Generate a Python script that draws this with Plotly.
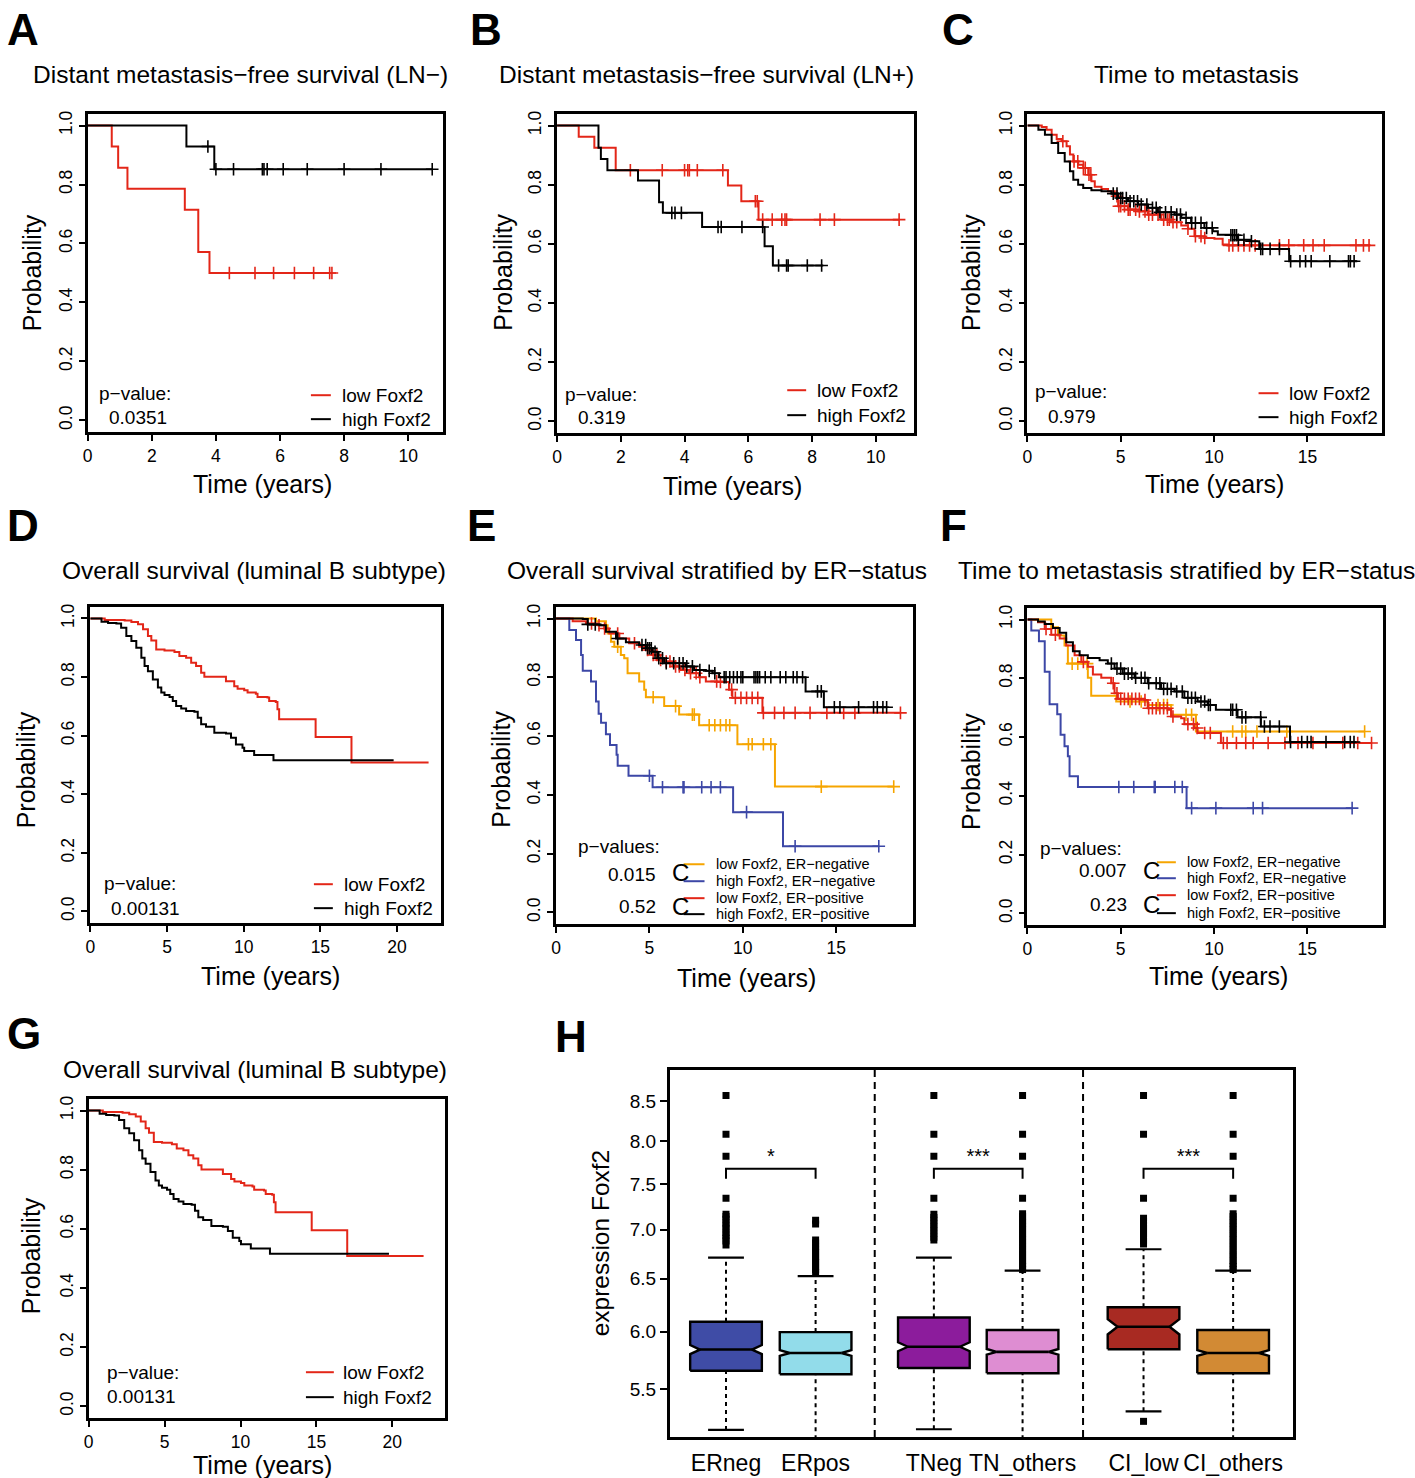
import numpy as np
import plotly.graph_objects as go

W, H = 1415, 1478
FONT = "Liberation Sans, Arial, Helvetica, sans-serif"

RED = "#E32618"
BLACK = "#000000"
ORANGE = "#F6A500"
BLUE = "#3C47A6"

# ---------------- Kaplan-Meier data ----------------
# A: distant metastasis-free survival (LN-)
a_low_t = [0.75, 0.95, 1.24, 3.03, 3.45, 3.80]
a_low_s = [0.929, 0.857, 0.786, 0.714, 0.571, 0.500]
a_low_end = 7.64
a_low_cens = [4.42, 5.22, 5.80, 6.45, 7.05, 7.55, 7.62]
a_high_t = [3.08, 3.95]
a_high_s = [0.929, 0.852]
a_high_end = 10.75
a_high_cens = [3.75, 4.0, 4.55, 5.45, 5.5, 5.6, 6.1, 6.85, 8.0, 9.15, 10.75]

# B: distant metastasis-free survival (LN+)
b_low_t = [0.68, 1.17, 1.84, 5.36, 5.78, 6.32]
b_low_s = [0.962, 0.925, 0.849, 0.797, 0.744, 0.682]
b_low_end = 10.73
b_low_cens = [2.3, 3.3, 4.0, 4.1, 4.15, 4.4, 5.2, 6.22, 6.28, 6.45, 6.75, 7.05, 7.15, 7.2, 8.25, 8.7, 10.73]
b_high_t = [1.30, 1.375, 1.58, 2.54, 3.20, 3.32, 4.55, 6.51, 6.77]
b_high_s = [0.925, 0.887, 0.849, 0.814, 0.741, 0.705, 0.657, 0.592, 0.527]
b_high_end = 8.35
b_high_cens = [3.6, 3.7, 3.9, 5.05, 5.15, 5.8, 6.45, 6.95, 7.2, 7.25, 7.85, 8.3]

# C: time to metastasis
c_low_t = [0.77, 1.03, 1.3, 1.57, 1.83, 2.1, 2.28, 2.46, 2.72, 2.99, 3.26, 3.43, 3.61, 3.97,
           4.32, 4.68, 4.86, 5.39, 5.93, 6.46, 7.17, 7.7, 8.24, 8.6, 8.95, 9.48, 10.02, 10.46, 10.73]
c_low_s = [0.995, 0.986, 0.969, 0.955, 0.947, 0.93, 0.902, 0.879, 0.868, 0.857, 0.834, 0.812, 0.793, 0.786,
           0.778, 0.761, 0.727, 0.716, 0.710, 0.699, 0.682, 0.673, 0.662, 0.651, 0.626, 0.620, 0.617, 0.598, 0.595]
c_low_end = 18.38
c_low_cens = [1.9, 2.5, 2.7, 3.0, 3.1, 3.3, 3.4, 4.8, 4.9, 5.0, 5.2, 5.4, 5.5, 5.8, 6.0, 6.3, 6.5, 6.7,
              7.0, 7.3, 7.5, 7.6, 7.8, 8.0, 8.6, 9.0, 9.3, 9.5, 10.8, 11.0, 11.3, 11.6, 11.9, 12.2,
              13.5, 14.0, 14.8, 15.3, 15.9, 17.6, 18.0, 18.3]
c_high_t = [0.59, 0.94, 1.3, 1.65, 2.0, 2.28, 2.46, 2.72, 2.99, 3.43, 3.97, 4.5, 4.86, 5.39, 5.93, 6.46,
            6.99, 7.88, 8.24, 8.77, 9.48, 9.93, 10.2, 10.9, 11.26, 11.97, 12.42, 14.02]
c_high_s = [0.986, 0.969, 0.941, 0.907, 0.879, 0.846, 0.817, 0.800, 0.789, 0.781, 0.778, 0.770, 0.755, 0.744,
            0.733, 0.722, 0.707, 0.699, 0.688, 0.671, 0.654, 0.643, 0.631, 0.629, 0.614, 0.609, 0.583, 0.541]
c_high_end = 17.67
c_high_cens = [4.6, 4.8, 5.0, 5.1, 5.3, 5.5, 5.7, 5.9, 6.1, 6.4, 6.7, 6.9, 7.1, 7.4, 7.7, 8.0, 8.2, 8.5,
               8.8, 9.0, 9.3, 9.6, 9.9, 10.9, 11.0, 11.1, 11.2, 11.3, 11.6, 12.0, 12.5, 12.6, 13.0, 13.5,
               14.1, 14.6, 14.9, 15.2, 16.2, 17.2, 17.3, 17.5]

# D / G: overall survival (luminal B subtype)
d_low_t = [0.93, 2.23, 2.67, 3.1, 3.43, 3.75, 3.97, 4.29, 4.83, 5.48, 5.8, 6.24, 6.57, 6.89, 7.22, 7.43,
           8.84, 9.38, 9.6, 10.03, 10.25, 10.79, 10.9, 11.55, 11.66, 12.09, 12.2, 12.31, 14.69, 17.03]
d_low_s = [0.995, 0.993, 0.988, 0.98, 0.963, 0.94, 0.925, 0.894, 0.891, 0.886, 0.872, 0.866, 0.849, 0.838,
           0.815, 0.801, 0.786, 0.769, 0.76, 0.755, 0.747, 0.743, 0.732, 0.73, 0.718, 0.715, 0.69, 0.656,
           0.595, 0.508]
d_low_end = 22.06
d_high_t = [0.72, 1.15, 1.69, 2.0, 2.34, 2.67, 2.99, 3.32, 3.53, 3.75, 4.07, 4.4, 4.62, 4.83, 5.16, 5.37,
            5.59, 5.92, 6.24, 6.78, 7.0, 7.22, 7.54, 8.08, 8.84, 9.17, 9.49, 9.92, 10.03, 10.68, 11.94]
d_high_s = [0.989, 0.985, 0.983, 0.968, 0.94, 0.923, 0.9, 0.866, 0.838, 0.82, 0.792, 0.764, 0.747, 0.739,
            0.732, 0.718, 0.701, 0.693, 0.684, 0.682, 0.661, 0.639, 0.63, 0.61, 0.607, 0.593, 0.57, 0.559,
            0.548, 0.534, 0.516]
d_high_end = 19.78

# E: overall survival stratified by ER-status
e_lneg_t = [2.14, 2.67, 2.76, 2.94, 3.12, 3.47, 3.65, 3.83, 4.45, 4.72, 4.81, 5.79, 6.59, 7.66, 9.71, 11.72]
e_lneg_s = [0.991, 0.977, 0.949, 0.921, 0.904, 0.876, 0.865, 0.814, 0.786, 0.758, 0.732, 0.702, 0.673,
            0.637, 0.572, 0.428]
e_lneg_end = 18.08
e_lneg_cens = [3.3, 5.2, 6.4, 7.3, 7.4, 8.2, 8.5, 8.8, 9.1, 9.3, 10.3, 10.5, 11.1, 11.5, 14.2, 18.08]
e_hneg_t = [0.71, 1.07, 1.34, 1.43, 1.87, 2.14, 2.28, 2.41, 2.67, 2.89, 3.24, 3.3, 3.88, 5.17, 9.48, 12.15]
e_hneg_s = [0.961, 0.927, 0.876, 0.822, 0.786, 0.718, 0.676, 0.645, 0.606, 0.57, 0.536, 0.499, 0.465,
            0.426, 0.341, 0.225]
e_hneg_end = 17.28
e_hneg_cens = [5.0, 5.7, 6.8, 6.85, 7.8, 8.3, 8.8, 10.2, 12.8, 17.28]
e_lpos_t = [0.89, 1.6, 2.23, 2.58, 2.85, 3.39, 3.92, 4.45, 4.81, 5.17, 5.43, 5.79, 6.24, 6.68, 7.13, 7.66,
            8.02, 8.64, 9.26, 9.44, 11.05]
e_lpos_s = [0.991, 0.983, 0.977, 0.966, 0.949, 0.932, 0.916, 0.904, 0.893, 0.876, 0.859, 0.854, 0.837,
            0.825, 0.814, 0.8, 0.786, 0.784, 0.758, 0.73, 0.679]
e_lpos_end = 18.44
e_lpos_cens = [1.9, 2.3, 2.6, 3.3, 4.2, 4.9, 5.2, 5.4, 5.6, 5.9, 6.1, 6.4, 6.6, 6.9, 7.2, 7.5, 7.7, 8.6,
               8.8, 9.4, 9.6, 9.9, 10.2, 10.5, 10.8, 11.1, 11.7, 12.2, 12.8, 13.6, 14.5, 15.4, 16.0, 18.44]
e_hpos_t = [1.43, 1.69, 2.32, 2.67, 3.21, 3.74, 4.45, 4.81, 5.17, 5.43, 5.79, 6.95, 7.39, 8.02, 8.37,
            8.73, 13.36, 14.34]
e_hpos_s = [0.998, 0.98, 0.977, 0.955, 0.932, 0.919, 0.91, 0.899, 0.887, 0.865, 0.848, 0.837, 0.825,
            0.822, 0.814, 0.8, 0.752, 0.698]
e_hpos_end = 17.73
e_hpos_cens = [1.7, 2.1, 3.3, 4.6, 4.8, 4.9, 5.0, 5.1, 5.3, 5.5, 5.7, 5.9, 6.3, 6.6, 6.8, 7.0, 7.3, 7.7,
               8.2, 8.5, 9.0, 9.1, 9.3, 9.5, 9.7, 9.9, 10.0, 10.6, 10.7, 10.8, 10.9, 11.2, 11.5, 12.0,
               12.3, 12.7, 12.9, 13.2, 14.0, 14.2, 14.9, 15.2, 16.2, 17.0, 17.2, 17.5, 17.7]

# F: time to metastasis stratified by ER-status
f_lneg_t = [1.28, 1.64, 1.99, 2.17, 3.24, 3.42, 4.76, 6.45, 7.7, 9.03]
f_lneg_s = [0.974, 0.946, 0.912, 0.85, 0.802, 0.741, 0.721, 0.709, 0.676, 0.619]
f_lneg_end = 18.07
f_lneg_cens = [2.4, 2.7, 3.2, 5.5, 6.1, 7.0, 7.3, 7.5, 8.5, 8.8, 11.0, 11.5, 11.7, 12.3, 13.9, 18.07]
f_hneg_t = [0.21, 0.62, 0.93, 1.19, 1.6, 1.78, 1.99, 2.17, 2.26, 2.71, 8.53]
f_hneg_s = [0.963, 0.926, 0.822, 0.712, 0.678, 0.608, 0.569, 0.535, 0.467, 0.43, 0.358]
f_hneg_end = 17.4
f_hneg_cens = [4.9, 5.7, 6.8, 6.85, 7.9, 8.3, 8.8, 10.1, 12.1, 12.6, 17.4]
f_lpos_t = [0.57, 0.93, 1.28, 1.73, 2.08, 2.53, 2.89, 3.24, 3.51, 3.96, 4.49, 4.67, 4.85, 6.27, 6.45,
            7.52, 7.7, 8.24, 8.41, 8.94, 9.12, 10.37]
f_lpos_s = [0.991, 0.968, 0.948, 0.935, 0.912, 0.878, 0.856, 0.839, 0.813, 0.802, 0.783, 0.749, 0.73,
            0.726, 0.698, 0.693, 0.67, 0.664, 0.644, 0.631, 0.614, 0.58]
f_lpos_end = 18.44
f_lpos_cens = [1.0, 1.5, 3.0, 4.6, 4.8, 5.0, 5.2, 5.4, 5.6, 5.8, 6.0, 6.3, 6.5, 6.7, 6.9, 7.1, 7.3, 7.5,
               7.8, 8.6, 8.9, 9.1, 9.5, 9.8, 10.5, 10.7, 11.2, 11.7, 12.1, 12.9, 13.8, 14.5, 15.3,
               16.9, 17.7, 18.44]
f_hpos_t = [0.57, 0.93, 1.37, 1.73, 2.08, 2.44, 2.8, 3.24, 3.87, 4.31, 4.67, 5.11, 5.74, 6.45, 7.16,
            7.88, 8.41, 9.12, 9.66, 10.1, 11.26, 12.51, 14.07]
f_hpos_s = [0.993, 0.985, 0.971, 0.955, 0.923, 0.892, 0.878, 0.869, 0.861, 0.85, 0.833, 0.816, 0.802,
            0.783, 0.764, 0.755, 0.734, 0.721, 0.709, 0.693, 0.667, 0.636, 0.583]
f_hpos_end = 17.58
f_hpos_cens = [4.5, 4.8, 5.0, 5.2, 5.4, 5.6, 5.8, 6.1, 6.3, 6.5, 6.9, 7.1, 7.3, 7.5, 7.7, 8.0, 8.3, 8.6,
               8.8, 9.0, 9.3, 9.5, 9.7, 9.8, 10.9, 11.0, 11.2, 11.5, 11.7, 12.5, 12.7, 13.0, 13.5,
               14.1, 14.7, 15.0, 15.2, 16.0, 17.0, 17.3, 17.5]

# ---------------- H: boxplot data ----------------
h_names = ["ERneg", "ERpos", "TNeg", "TN_others", "CI_low", "CI_others"]
h_colors = ["#3F4CA6", "#92DCEA", "#8C1C9C", "#DE8DD2", "#A82A22", "#D28A34"]
h_q1 = [5.656, 5.626, 5.680, 5.635, 5.843, 5.635]
h_med = [5.84, 5.81, 5.865, 5.82, 6.045, 5.81]
h_q3 = [6.09, 5.996, 6.13, 6.015, 6.225, 6.015]
h_lo = [5.173, 5.10, 5.178, 5.10, 5.32, 5.10]
h_hi = [6.71, 6.525, 6.71, 6.58, 6.795, 6.58]
h_notch = [0.04, 0.025, 0.04, 0.025, 0.07, 0.025]
h_out = [
    [8.57, 8.085, 7.82, 7.34, 7.165, 7.14, 7.11, 7.07, 7.04, 7.01, 6.97, 6.94, 6.91, 6.88, 6.84],
    [7.10, 7.06, 6.89, 6.86, 6.82, 6.79, 6.76, 6.72, 6.69, 6.66, 6.62, 6.59, 6.56],
    [8.57, 8.085, 7.82, 7.34, 7.165, 7.13, 7.10, 7.06, 7.03, 6.99, 6.96, 6.92, 6.89],
    [8.57, 8.085, 7.82, 7.34, 7.17, 7.14, 7.10, 7.07, 7.03, 7.00, 6.96, 6.93, 6.89, 6.86, 6.82,
     6.79, 6.75, 6.72, 6.68, 6.65, 6.62, 6.59],
    [8.57, 8.085, 7.34, 7.12, 7.09, 7.05, 7.02, 6.98, 6.95, 6.91, 6.88, 6.85, 5.24],
    [8.57, 8.085, 7.82, 7.34, 7.17, 7.14, 7.10, 7.07, 7.03, 7.00, 6.96, 6.93, 6.89, 6.86, 6.82,
     6.79, 6.75, 6.72, 6.68, 6.65, 6.62, 6.59],
]
h_pairs = [(0, 1), (2, 3), (4, 5)]
h_stars = ["*", "***", "***"]
h_bracket_y = [7.675, 7.675, 7.675]

# ---------------- layout constants ----------------
# key, box left, right, top, bottom (px), x range, x ticks
panels = [
    ("A", 83, 440, 111, 430, [0, 11.1], [0, 2, 4, 6, 8, 10]),
    ("B", 554, 912, 111, 431, [0, 11.19], [0, 2, 4, 6, 8, 10]),
    ("C", 1026, 1382, 111, 431, [0, 19.0], [0, 5, 10, 15]),
    ("D", 85, 438, 605, 922, [-0.05, 22.9], [0, 5, 10, 15, 20]),
    ("E", 553, 911, 605, 923, [0, 19.1], [0, 5, 10, 15]),
    ("F", 1026, 1383, 606, 924, [0, 19.06], [0, 5, 10, 15]),
    ("G", 84, 442, 1098, 1418, [0, 23.5], [0, 5, 10, 15, 20]),
]
H_BOX = (667, 1293, 1069, 1437)
BOX_AT = [1, 2, 3.32, 4.31, 5.66, 6.66]
HALF_W, NOTCH_W, CAP_W = 0.40, 0.29, 0.20

km = {
    "A": [(a_low_t, a_low_s, a_low_end, a_low_cens, RED), (a_high_t, a_high_s, a_high_end, a_high_cens, BLACK)],
    "B": [(b_low_t, b_low_s, b_low_end, b_low_cens, RED), (b_high_t, b_high_s, b_high_end, b_high_cens, BLACK)],
    "C": [(c_low_t, c_low_s, c_low_end, c_low_cens, RED), (c_high_t, c_high_s, c_high_end, c_high_cens, BLACK)],
    "D": [(d_low_t, d_low_s, d_low_end, [], RED), (d_high_t, d_high_s, d_high_end, [], BLACK)],
    "E": [(e_lneg_t, e_lneg_s, e_lneg_end, e_lneg_cens, ORANGE), (e_hneg_t, e_hneg_s, e_hneg_end, e_hneg_cens, BLUE),
          (e_lpos_t, e_lpos_s, e_lpos_end, e_lpos_cens, RED), (e_hpos_t, e_hpos_s, e_hpos_end, e_hpos_cens, BLACK)],
    "F": [(f_lneg_t, f_lneg_s, f_lneg_end, f_lneg_cens, ORANGE), (f_hneg_t, f_hneg_s, f_hneg_end, f_hneg_cens, BLUE),
          (f_lpos_t, f_lpos_s, f_lpos_end, f_lpos_cens, RED), (f_hpos_t, f_hpos_s, f_hpos_end, f_hpos_cens, BLACK)],
    "G": [(d_low_t, d_low_s, d_low_end, [], RED), (d_high_t, d_high_s, d_high_end, [], BLACK)],
}


def step_at(t, s, c):
    idx = np.searchsorted(np.array(t), np.array(c), side="right")
    return np.concatenate([[1.0], s])[idx]


fig = go.Figure()
axes = {}
for i, (key, l, r, t, b, xr, xt) in enumerate(panels, start=1):
    sfx = "" if i == 1 else str(i)
    frame = dict(showline=True, linecolor="black", linewidth=2.5, mirror=True, ticks="outside",
                 ticklen=6, tickwidth=1.5, tickcolor="black", showgrid=False, zeroline=False,
                 tickfont=dict(family=FONT, size=17.5, color="black"))
    axes["xaxis" + sfx] = dict(domain=[l / W, r / W], range=xr, anchor="y" + sfx, tickvals=xt,
                               tickangle=0, **frame)
    axes["yaxis" + sfx] = dict(domain=[1 - b / H, 1 - t / H], range=[-0.04, 1.04], anchor="x" + sfx,
                               tickvals=[0, 0.2, 0.4, 0.6, 0.8, 1.0], tickformat=".1f", tickangle=-90, **frame)
    for (ct, cs, cend, cc, col) in km[key]:
        fig.add_trace(go.Scatter(x=[0] + list(ct) + [cend], y=[1.0] + list(cs) + [cs[-1]], mode="lines",
                                 line=dict(color=col, width=2, shape="hv"), xaxis="x" + sfx, yaxis="y" + sfx))
        if cc:
            fig.add_trace(go.Scatter(x=cc, y=step_at(ct, cs, cc), mode="markers",
                                     marker=dict(symbol="cross-thin", size=9, line=dict(color=col, width=1.6)),
                                     xaxis="x" + sfx, yaxis="y" + sfx))

# ---------------- H boxplot ----------------
l, r, t, b = H_BOX
axes["xaxis8"] = dict(domain=[l / W, r / W], range=[0.371, 7.333], anchor="y8", tickvals=BOX_AT,
                      ticktext=h_names, tickangle=0, ticks="outside", ticklen=4, tickcolor="rgba(0,0,0,0)",
                      showline=True, linecolor="black", linewidth=2.5, mirror=True, showgrid=False,
                      zeroline=False, tickfont=dict(family=FONT, size=23, color="black"))
axes["yaxis8"] = dict(domain=[1 - b / H, 1 - t / H], type="log", range=[np.log10(5.117), np.log10(8.91)],
                      anchor="x8", tickvals=[5.5, 6.0, 6.5, 7.0, 7.5, 8.0, 8.5], tickformat=".1f",
                      ticks="outside", ticklen=7, tickwidth=1.5, tickcolor="black", showline=True,
                      linecolor="black", linewidth=2.5, mirror=True, showgrid=False, zeroline=False,
                      tickfont=dict(family=FONT, size=19, color="black"))

for k, x in enumerate(BOX_AT):
    q1, md, q3, n = h_q1[k], h_med[k], h_q3[k], h_notch[k]
    px = [x - HALF_W, x - HALF_W, x - NOTCH_W, x - HALF_W, x - HALF_W, x + HALF_W, x + HALF_W,
          x + NOTCH_W, x + HALF_W, x + HALF_W, x - HALF_W]
    py = [q1, md - n, md, md + n, q3, q3, md + n, md, md - n, q1, q1]
    fig.add_trace(go.Scatter(x=[x, x], y=[q3, h_hi[k]], mode="lines", line=dict(color="black", width=2, dash="4px,4px"),
                             xaxis="x8", yaxis="y8"))
    fig.add_trace(go.Scatter(x=[x, x], y=[h_lo[k], q1], mode="lines", line=dict(color="black", width=2, dash="4px,4px"),
                             xaxis="x8", yaxis="y8"))
    for v in (h_hi[k], h_lo[k]):
        fig.add_trace(go.Scatter(x=[x - CAP_W, x + CAP_W], y=[v, v], mode="lines", line=dict(color="black", width=2.2),
                                 xaxis="x8", yaxis="y8"))
    fig.add_trace(go.Scatter(x=px, y=py, mode="lines", fill="toself", fillcolor=h_colors[k],
                             line=dict(color="black", width=2.4), xaxis="x8", yaxis="y8"))
    fig.add_trace(go.Scatter(x=[x - NOTCH_W, x + NOTCH_W], y=[md, md], mode="lines",
                             line=dict(color="black", width=2.6), xaxis="x8", yaxis="y8"))
    fig.add_trace(go.Scatter(x=[x] * len(h_out[k]), y=h_out[k], mode="markers",
                             marker=dict(symbol="square", size=7, color="black"), xaxis="x8", yaxis="y8"))

for (p0, p1), star, yb in zip(h_pairs, h_stars, h_bracket_y):
    x0, x1 = BOX_AT[p0], BOX_AT[p1]
    fig.add_trace(go.Scatter(x=[x0, x0, x1, x1], y=[yb - 0.115, yb, yb, yb - 0.115], mode="lines",
                             line=dict(color="black", width=2), xaxis="x8", yaxis="y8"))
    fig.add_trace(go.Scatter(x=[(x0 + x1) / 2], y=[yb + 0.12], mode="text", text=[star],
                             textfont=dict(family=FONT, size=20, color="black"), xaxis="x8", yaxis="y8"))

shapes = []
for k in (1, 3):
    xm = (BOX_AT[k] + BOX_AT[k + 1]) / 2
    shapes.append(dict(type="line", xref="x8", yref="y8 domain", x0=xm, x1=xm, y0=0, y1=1,
                       line=dict(color="black", width=2, dash="7px,5px")))


# ---------------- text ----------------
def txt(x, y, s, size, xanchor="center", angle=0):
    return dict(x=x / W, y=1 - y / H, xref="paper", yref="paper", text=s, showarrow=False,
                xanchor=xanchor, yanchor="middle", textangle=angle,
                font=dict(family=FONT, size=size, color="black"))


def seg(x0, x1, y, col):
    return dict(type="line", xref="paper", yref="paper", x0=x0 / W, x1=x1 / W, y0=1 - y / H, y1=1 - y / H,
                line=dict(color=col, width=2))


ann = []
letters = [("A", 0, 27), ("B", 465, 27), ("C", 938, 27), ("D", 0, 524), ("E", 462, 524),
           ("F", 936, 524), ("G", 0, 1033), ("H", 550, 1036)]
for s, x, y in letters:
    ann.append(txt(x, y, "<b>%s</b>" % s, 44, xanchor="left"))

titles = [("Distant metastasis\u2212free survival (LN\u2212)", 236, 72),
          ("Distant metastasis\u2212free survival (LN+)", 704, 72),
          ("Time to metastasis", 1196, 72),
          ("Overall survival (luminal B subtype)", 250, 569),
          ("Overall survival stratified by ER\u2212status", 715, 569),
          ("Time to metastasis stratified by ER\u2212status", 1186, 569),
          ("Overall survival (luminal B subtype)", 251, 1069)]
for s, x, y in titles:
    ann.append(txt(x, y, s, 24.5))

for x, y in [(258, 482), (730, 484), (1214, 482), (266, 975), (744, 977), (1218, 975), (258, 1465)]:
    ann.append(txt(x, y, "Time (years)", 25))
for x, y in [(28, 270), (500, 270), (970, 270), (22, 768), (498, 768), (970, 770), (27, 1255)]:
    ann.append(txt(x, y, "Probability", 25, angle=-90))
ann.append(txt(598, 1242, "expression Foxf2", 24.5, angle=-90))

# two-group legends: p-label x, p y, value x, value y, line x0, x1, low y, high y, text x, p-value
two_leg = [(92, 391, 102, 415, 307, 327, 393, 417, 336, "0.0351"),
           (560, 392, 573, 415, 785, 804, 388, 413, 813, "0.319"),
           (1032, 389, 1045, 414, 1258, 1278, 391, 415, 1287, "0.979"),
           (97, 882, 104, 907, 310, 329, 883, 907, 338, "0.00131"),
           (100, 1372, 100, 1396, 302, 330, 1372, 1397, 337, "0.00131")]
for px_, py_, vx, vy, lx0, lx1, ly1, ly2, tx, pv in two_leg:
    ann.append(txt(px_, py_, "p\u2212value:", 19, xanchor="left"))
    ann.append(txt(vx, vy, pv, 19, xanchor="left"))
    ann.append(txt(tx, ly1, "low Foxf2", 19, xanchor="left"))
    ann.append(txt(tx, ly2, "high Foxf2", 19, xanchor="left"))
    shapes.append(seg(lx0, lx1, ly1, RED))
    shapes.append(seg(lx0, lx1, ly2, BLACK))

# four-group legends (E, F)
four_names = ["low Foxf2, ER\u2212negative", "high Foxf2, ER\u2212negative",
              "low Foxf2, ER\u2212positive", "high Foxf2, ER\u2212positive"]
four_cols = [ORANGE, BLUE, RED, BLACK]
four_leg = [(573, 845, 655, 873, 905, 667, 681, 702, [863, 880, 897, 913], 712, ["0.015", "0.52"]),
            (1037, 847, 1128, 869, 903, 1140, 1156, 1175, [861, 877, 894, 912], 1184, ["0.007", "0.23"])]
for px_, py_, vx, vy1, vy2, cx, lx0, lx1, ly, tx, pvs in four_leg:
    ann.append(txt(px_, py_, "p\u2212values:", 19, xanchor="left"))
    ann.append(txt(vx, vy1, pvs[0], 19, xanchor="right"))
    ann.append(txt(vx, vy2, pvs[1], 19, xanchor="right"))
    ann.append(txt(cx, (ly[0] + ly[1]) / 2, "C", 24, xanchor="left"))
    ann.append(txt(cx, (ly[2] + ly[3]) / 2, "C", 24, xanchor="left"))
    for name, col, y in zip(four_names, four_cols, ly):
        shapes.append(seg(lx0, lx1, y, col))
        ann.append(txt(tx, y, name, 14.5, xanchor="left"))

fig.update_layout(width=W, height=H, margin=dict(l=0, r=0, t=0, b=0), showlegend=False,
                  paper_bgcolor="white", plot_bgcolor="white", annotations=ann, shapes=shapes,
                  font=dict(family=FONT, color="black"), **axes)

# page has a default body margin; remove it so the figure sits at the top-left corner
fig.write_html("out.html", config={"displayModeBar": False},
               post_script="document.body.style.margin='0px';")
